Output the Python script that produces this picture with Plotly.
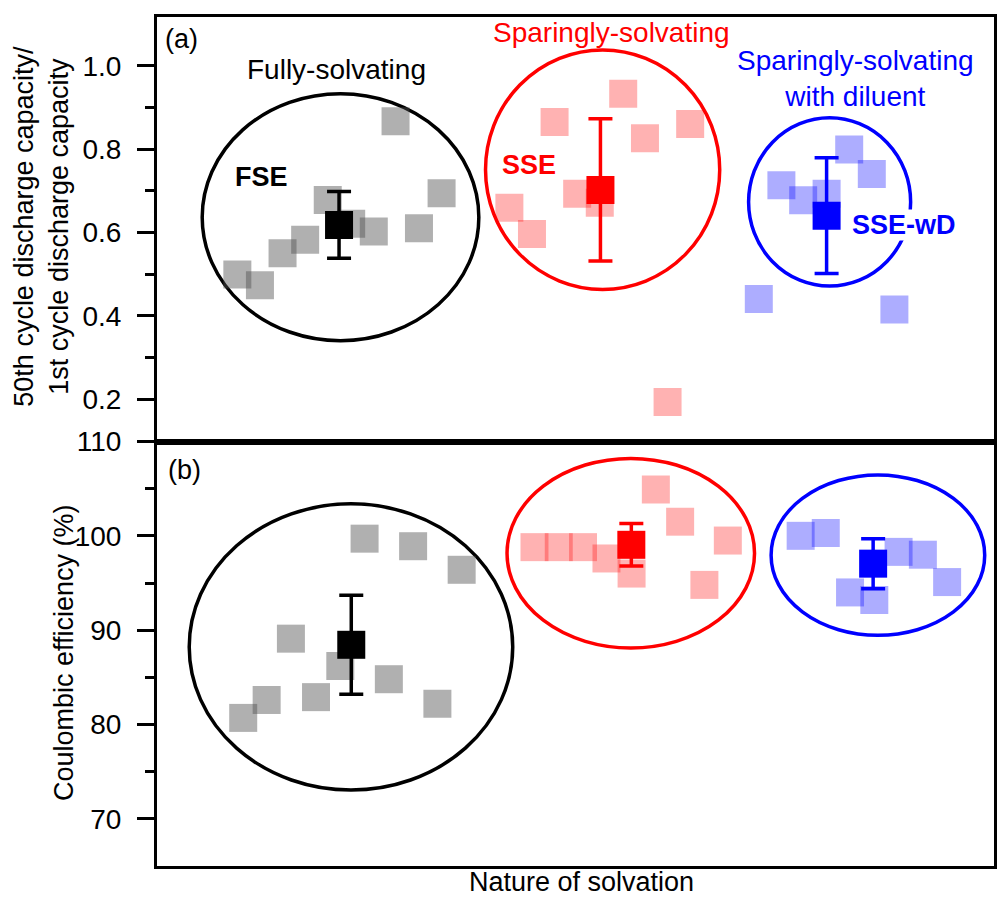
import plotly.graph_objects as go
from plotly.subplots import make_subplots

# ---------------- data ----------------
# (a) 50th / 1st cycle discharge capacity
fse_x_a = [0.96, 1.23, 1.50, 1.77, 2.04, 2.32, 2.59, 2.85, 3.13, 3.40]
fse_y_a = [0.499, 0.473, 0.550, 0.582, 0.678, 0.621, 0.602, 0.867, 0.610, 0.694]
sse_x_a = [4.21, 4.48, 4.75, 5.02, 5.29, 5.57, 5.83, 6.10, 6.37]
sse_y_a = [0.659, 0.596, 0.865, 0.693, 0.671, 0.933, 0.826, 0.193, 0.860]
wd_x_a = [7.19, 7.46, 7.72, 8.00, 8.27, 8.54, 8.81]
wd_y_a = [0.440, 0.713, 0.677, 0.693, 0.799, 0.740, 0.415]

mean_x_a = [2.175, 5.298, 8.0]
mean_y_a = [0.618, 0.702, 0.640]
err_a = [0.080, 0.171, 0.139]

# (b) Coulombic efficiency (%)
fse_x_b = [1.03, 1.31, 1.60, 1.90, 2.19, 2.48, 2.77, 3.06, 3.35, 3.64]
fse_y_b = [80.7, 82.6, 89.1, 82.9, 86.2, 99.7, 84.8, 98.9, 82.2, 96.4]
sse_x_b = [4.51, 4.80, 5.09, 5.37, 5.67, 5.96, 6.25, 6.54, 6.82]
sse_y_b = [98.8, 98.8, 98.8, 97.6, 96.0, 104.9, 101.5, 94.8, 99.5]
wd_x_b = [7.69, 7.99, 8.28, 8.57, 8.86, 9.15, 9.44]
wd_y_b = [100.0, 100.3, 94.0, 93.2, 98.3, 98.0, 95.1]

mean_x_b = [2.321, 5.667, 8.556]
mean_y_b = [88.45, 99.05, 97.05]
err_b = [5.25, 2.25, 2.65]

groups = ["FSE", "SSE", "SSE-wD"]
group_colors = ["#000000", "#ff0000", "#0000ff"]
scatter_colors = ["rgba(80,80,80,0.45)", "rgba(255,0,0,0.3)", "rgba(0,0,255,0.32)"]

# group ellipses (x0, x1, y0, y1) in data units
ell_a = [(0.54, 3.845, 0.340, 0.933), (3.925, 6.723, 0.463, 1.038), (7.068, 9.004, 0.471, 0.875)]
ell_b = [(0.385, 4.25, 73.05, 103.39), (4.182, 7.139, 88.11, 108.21), (7.337, 9.889, 89.45, 106.46)]

# ---------------- figure ----------------
FONT = "Liberation Sans, Arial, sans-serif"
FS = 28
W, H = 999, 897
ML, MR, MT = 157, 2, 14
PW, PH = 840, 852
MB = H - MT - PH


def px(x, y):
    # reference-screenshot pixel -> paper coordinates
    return (x - ML) / PW, (MT + PH - y) / PH


fig = make_subplots(rows=2, cols=1, vertical_spacing=0)

sets = [
    (1, [(fse_x_a, fse_y_a), (sse_x_a, sse_y_a), (wd_x_a, wd_y_a)], mean_x_a, mean_y_a, err_a, ell_a, "x", "y"),
    (2, [(fse_x_b, fse_y_b), (sse_x_b, sse_y_b), (wd_x_b, wd_y_b)], mean_x_b, mean_y_b, err_b, ell_b, "x2", "y2"),
]

for row, pts, mx, my, me, ells, xr, yr in sets:
    for i, (xs, ys) in enumerate(pts):
        fig.add_trace(go.Scatter(x=xs, y=ys, mode="markers",
                                 marker=dict(symbol="square", size=28, color=scatter_colors[i],
                                             line=dict(width=0)),
                                 showlegend=False, hoverinfo="skip"), row=row, col=1)
    for i, (x0, x1, y0, y1) in enumerate(ells):
        fig.add_shape(type="circle", xref=xr, yref=yr, x0=x0, x1=x1, y0=y0, y1=y1,
                      line=dict(color=group_colors[i], width=3.5), layer="below")
    for i in range(3):
        fig.add_trace(go.Scatter(x=[mx[i]], y=[my[i]], mode="markers",
                                 marker=dict(symbol="square", size=28, color=group_colors[i],
                                             line=dict(width=0)),
                                 error_y=dict(type="data", array=[me[i]], visible=True,
                                              color=group_colors[i], thickness=3.5, width=12),
                                 showlegend=False, hoverinfo="skip"), row=row, col=1)

axis_common = dict(showline=True, linecolor="black", linewidth=3, mirror=True,
                   showgrid=False, zeroline=False)

fig.update_xaxes(range=[0, 10], showticklabels=False, ticks="", **axis_common)
fig.update_yaxes(ticks="outside", ticklen=17, tickwidth=3, tickcolor="black",
                 ticklabelstandoff=10,
                 tickfont=dict(family=FONT, size=FS, color="black"), **axis_common)
fig.update_yaxes(range=[0.098, 1.117], tickvals=[0.2, 0.4, 0.6, 0.8, 1.0],
                 ticktext=["0.2", "0.4", "0.6", "0.8", "1.0"],
                 minor=dict(tickvals=[0.3, 0.5, 0.7, 0.9], ticks="outside", ticklen=9,
                            tickwidth=3, tickcolor="black"),
                 row=1, col=1)
fig.update_yaxes(range=[65, 110], tickvals=[70, 80, 90, 100, 110],
                 minor=dict(tickvals=[75, 85, 95, 105], ticks="outside", ticklen=9,
                            tickwidth=3, tickcolor="black"),
                 row=2, col=1)

fig.update_layout(
    width=W, height=H,
    margin=dict(l=ML, r=MR, t=MT, b=MB),
    paper_bgcolor="white", plot_bgcolor="white",
    font=dict(family=FONT, size=FS, color="black"),
    xaxis=dict(domain=[0, 1]), xaxis2=dict(domain=[0, 1]),
    yaxis=dict(domain=[0.5, 1]), yaxis2=dict(domain=[0, 0.5]),
)


def label(text, x, y, color="black", xanchor="center", angle=0, bold=False, bg=None, size=FS):
    xp, yp = px(x, y)
    t = f"<b>{text}</b>" if bold else text
    kw = dict(text=t, x=xp, y=yp, xref="paper", yref="paper", showarrow=False,
              xanchor=xanchor, yanchor="middle", textangle=angle,
              font=dict(family=FONT, size=size, color=color))
    if bg:
        kw.update(bgcolor=bg, borderpad=0)
    fig.add_annotation(**kw)


label("(a)", 163, 36, xanchor="left", size=27)
label("(b)", 166, 469, xanchor="left", size=27)
label("Fully-solvating", 337, 67)
label("FSE", 262, 175, bold=True, size=27)
label("Sparingly-solvating", 613, 30, color="#ff0000")
label("SSE", 530, 163, color="#ff0000", bold=True, size=27)
label("Sparingly-solvating<br>with diluent", 858, 76, color="#0000ff")
label("SSE-wD", 907, 223, color="#0000ff", bold=True, bg="white", size=27)
label("Nature of solvation", 583, 882, size=27)
label("50th cycle discharge capacity/<br>1st cycle discharge capacity", 41, 224, angle=-90, size=27)
label("Coulombic efficiency (%)", 63, 652, angle=-90, size=27)

fig.write_html("out.html",
               config={"displayModeBar": False},
               post_script="document.body.style.margin='0px';"
                           "document.body.style.overflow='hidden';")
